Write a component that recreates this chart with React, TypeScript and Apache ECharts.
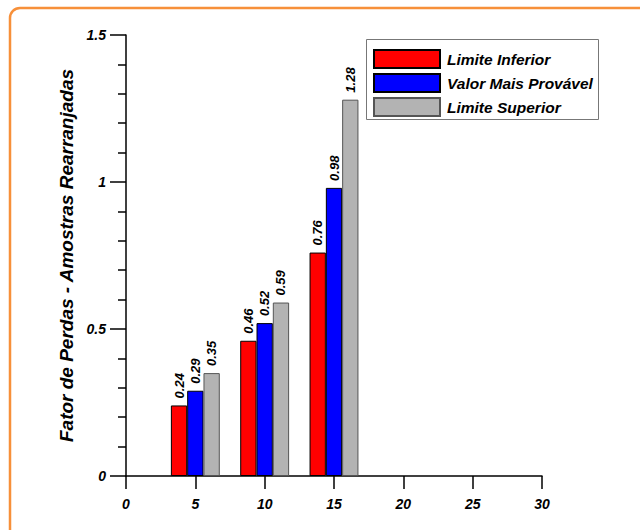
import React, { useEffect, useRef } from "react";
import * as echarts from "echarts";

const xPositions = [5, 10, 15];
const seriesNames = ["Limite Inferior", "Valor Mais Provável", "Limite Superior"];
const limiteInferior = [0.24, 0.46, 0.76];
const valorMaisProvavel = [0.29, 0.52, 0.98];
const limiteSuperior = [0.35, 0.59, 1.28];
const seriesColors = ["#FF0000", "#0000FF", "#B3B3B3"];
const borderColors = ["#000000", "#000000", "#555555"];
const yAxisTitle = "Fator de Perdas - Amostras Rearranjadas";

const FONT = "'Liberation Sans', Arial, sans-serif";

export default function App() {
  const ref = useRef<HTMLDivElement>(null);
  useEffect(() => {
    if (!ref.current) return;
    const chart = echarts.init(ref.current, undefined, { renderer: "svg" });
    const values = [limiteInferior, valorMaisProvavel, limiteSuperior];
    const series = values.map((vals, i) => ({
      name: seriesNames[i],
      type: "bar",
      data: xPositions.map((x, j) => [x, vals[j]]),
      barWidth: 16.3,
      barGap: "0%",
      itemStyle: { color: seriesColors[i], borderColor: borderColors[i], borderWidth: 1 },
      label: {
        show: true,
        position: "top",
        rotate: 90,
        align: "left",
        verticalAlign: "middle",
        distance: 7,
        fontFamily: FONT,
        fontSize: 13,
        fontWeight: "bold",
        fontStyle: "italic",
        color: "#000",
        formatter: (p: any) => Number(p.value[1]).toFixed(2),
      },
    }));
    chart.setOption({
      animation: false,
      backgroundColor: "#fff",
      textStyle: { fontFamily: FONT },
      graphic: [
        {
          type: "rect",
          shape: { x: 10, y: 8, width: 700, height: 600, r: 10 },
          style: { fill: "none", stroke: "#F7903A", lineWidth: 2.5 },
          silent: true,
          z: 100,
        },
        {
          type: "rect",
          shape: { x: 366.5, y: 39.5, width: 232, height: 80 },
          style: { fill: "#fff", stroke: "#777", lineWidth: 1 },
          silent: true,
          z: 5,
        },
      ],
      legend: {
        orient: "vertical",
        left: 368,
        top: 44,
        padding: 5,
        itemWidth: 66,
        itemHeight: 18,
        itemGap: 4,
        icon: "rect",
        z: 10,
        data: seriesNames,
        textStyle: {
          fontFamily: FONT,
          fontSize: 15.5,
          fontWeight: "bold",
          fontStyle: "italic",
          color: "#000",
          padding: [0, 0, 0, 2],
        },
      },
      grid: { left: 126, top: 35, width: 416, height: 441, containLabel: false },
      xAxis: {
        type: "value",
        min: 0,
        max: 30,
        interval: 5,
        splitLine: { show: false },
        axisLine: { show: true, lineStyle: { color: "#000", width: 1.5 } },
        axisTick: { show: true, inside: false, length: 13, lineStyle: { color: "#000", width: 1.5 } },
        axisLabel: {
          margin: 21,
          fontFamily: FONT,
          fontSize: 14,
          fontWeight: "bold",
          fontStyle: "italic",
          color: "#000",
        },
      },
      yAxis: {
        type: "value",
        min: 0,
        max: 1.5,
        interval: 0.5,
        name: yAxisTitle,
        nameLocation: "middle",
        nameRotate: 90,
        nameGap: 42,
        nameTextStyle: {
          fontFamily: FONT,
          fontSize: 19,
          fontWeight: "bold",
          fontStyle: "italic",
          color: "#000",
        },
        splitLine: { show: false },
        axisLine: { show: true, onZero: false, lineStyle: { color: "#000", width: 1.5 } },
        axisTick: { show: true, length: 16, lineStyle: { color: "#000", width: 1.5 } },
        minorTick: { show: true, splitNumber: 5, length: 8, lineStyle: { color: "#000", width: 1.5 } },
        axisLabel: {
          margin: 20,
          fontFamily: FONT,
          fontSize: 14,
          fontWeight: "bold",
          fontStyle: "italic",
          color: "#000",
          formatter: (v: number) => String(v),
        },
      },
      series,
    });
    return () => chart.dispose();
  }, []);
  return (
    <div
      ref={ref}
      style={{ position: "fixed", left: 0, top: 0, width: 640, height: 530 }}
    />
  );
}
